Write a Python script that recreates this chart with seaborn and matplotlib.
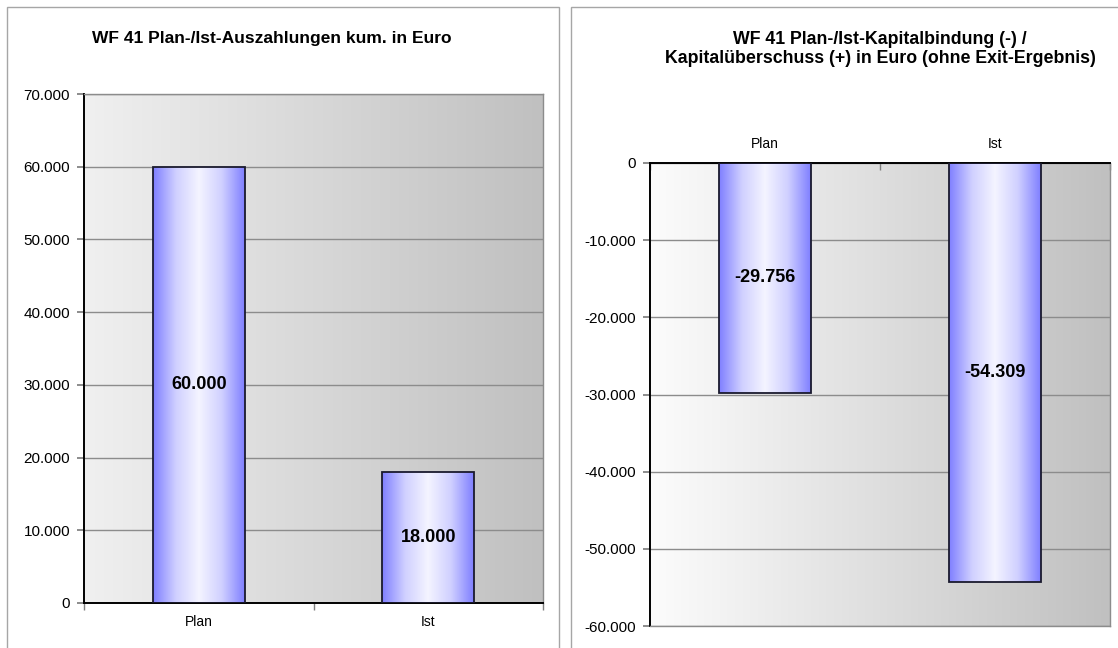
import numpy as np
import pandas as pd
import matplotlib
matplotlib.use("Agg")
import matplotlib.pyplot as plt
from matplotlib.colors import LinearSegmentedColormap
from matplotlib.patches import Rectangle
from matplotlib.ticker import FuncFormatter, MultipleLocator
import seaborn as sns

# --- data ---
categories = ["Plan", "Ist"]
auszahlungen = [60000, 18000]
kapitalbindung = [-29756, -54309]

title_left = "WF 41 Plan-/Ist-Auszahlungen kum. in Euro"
title_right = "WF 41 Plan-/Ist-Kapitalbindung (-) /\nKapitalüberschuss (+) in Euro (ohne Exit-Ergebnis)"

sns.set_theme(style="white")
plt.rcParams["font.family"] = ["Liberation Sans", "DejaVu Sans"]
plt.rcParams["text.color"] = "black"

W, H = 1118, 648
fig = plt.figure(figsize=(W / 100, H / 100), dpi=100)


def px_axes(x0, x1, ytop, ybot):
    return [x0 / W, 1 - ybot / H, (x1 - x0) / W, (ybot - ytop) / H]


# panel frames
for x0, w in [(7, 552), (571, 560)]:
    fig.patches.append(Rectangle((x0 / W, -0.05), w / W, 1 - 7 / H + 0.05,
                                 transform=fig.transFigure, fill=False,
                                 edgecolor="#a6a6a6", linewidth=1.0))

bar_cmap = LinearSegmentedColormap.from_list(
    "bar", ["#7f7fff", "#d0d0ff", "#f4f4ff", "#d0d0ff", "#7f7fff"])


def de_fmt(v, _pos=None):
    s = f"{abs(v):,.0f}".replace(",", ".")
    return ("-" if v < 0 else "") + s


def style_axes(ax, bg_from, bg_to):
    bg = LinearSegmentedColormap.from_list("bg", [bg_from, bg_to])
    grad = np.linspace(0, 1, 256).reshape(1, -1)
    ax.imshow(grad, cmap=bg, aspect="auto", extent=[0, 1, 0, 1],
              transform=ax.transAxes, zorder=-10)
    ax.set_facecolor("none")


def shade_bars(ax):
    grad = np.linspace(0, 1, 256).reshape(1, -1)
    for p in ax.patches:
        x, y = p.get_x(), p.get_y()
        w, h = p.get_width(), p.get_height()
        im = ax.imshow(grad, cmap=bar_cmap, aspect="auto",
                       extent=[x, x + w, min(y, y + h), max(y, y + h)],
                       zorder=2)
        im.set_clip_path(p)
        p.set_facecolor("none")
        p.set_edgecolor("#1a1a2e")
        p.set_linewidth(1.3)
        p.set_zorder(3)


def finish(ax, values, ymin, ymax):
    ax.set_xlim(-0.5, 1.5)
    ax.set_ylim(ymin, ymax)
    ax.yaxis.set_major_locator(MultipleLocator(10000))
    ax.yaxis.set_major_formatter(FuncFormatter(de_fmt))
    ax.grid(axis="y", color="#8c8c8c", linewidth=1.0, zorder=0)
    ax.set_axisbelow(True)
    for i, v in enumerate(values):
        ax.text(i, v / 2, de_fmt(v), ha="center", va="center",
                fontsize=13, fontweight="bold", color="black", zorder=5)
    ax.set_xlabel("")
    ax.set_ylabel("")
    ax.set_xticks([0, 1])
    ax.set_xticks([-0.5, 0.5, 1.5], minor=True)
    ax.tick_params(axis="x", which="major", length=0, labelsize=10, pad=9,
                   labelcolor="black")
    ax.tick_params(axis="y", length=5, left=True, color="#7f7f7f",
                   labelsize=11, pad=5, labelcolor="black")
    for s in ax.spines.values():
        s.set_visible(True)
        s.set_color("#8c8c8c")
        s.set_linewidth(1.0)
    ax.spines["left"].set_color("black")
    ax.spines["left"].set_linewidth(1.4)


# left chart
ax1 = fig.add_axes(px_axes(84, 543, 94, 603))
df1 = pd.DataFrame({"Kategorie": categories, "Wert": auszahlungen})
sns.barplot(data=df1, x="Kategorie", y="Wert", ax=ax1, width=0.40,
            color="#8080ff", saturation=1)
style_axes(ax1, "#f0f0f0", "#c0c0c0")
shade_bars(ax1)
finish(ax1, auszahlungen, 0, 70000)
ax1.tick_params(axis="x", which="minor", bottom=True, top=False, length=5,
                color="#7f7f7f", direction="out")
ax1.spines["bottom"].set_color("black")
ax1.spines["bottom"].set_linewidth(1.4)

# right chart
ax2 = fig.add_axes(px_axes(650, 1110, 163, 626))
df2 = pd.DataFrame({"Kategorie": categories, "Wert": kapitalbindung})
sns.barplot(data=df2, x="Kategorie", y="Wert", ax=ax2, width=0.40,
            color="#8080ff", saturation=1)
style_axes(ax2, "#fcfcfc", "#c0c0c0")
shade_bars(ax2)
finish(ax2, kapitalbindung, -60000, 0)
ax2.xaxis.tick_top()
ax2.tick_params(axis="x", which="minor", top=True, bottom=False, length=5,
                color="#7f7f7f", direction="in")
ax2.spines["top"].set_color("black")
ax2.spines["top"].set_linewidth(1.4)

# titles
fig.text(272 / W, 1 - 38 / H, title_left, ha="center", va="center",
         fontsize=12.5, fontweight="bold")
fig.text(880 / W, 1 - 49 / H, title_right, ha="center", va="center",
         fontsize=12.8, fontweight="bold", linespacing=1.15)

fig.savefig("out.png", dpi=100)
